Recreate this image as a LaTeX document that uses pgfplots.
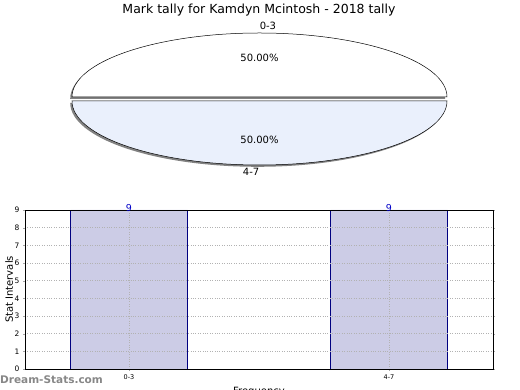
\documentclass[border=0pt]{standalone}
\usepackage{pgfplots}
\pgfplotsset{compat=1.18}
\usepackage{pgfplotstable}
\usepackage{fontspec}
\setmainfont{DejaVu Sans}
\definecolor{barfill}{RGB}{204,204,230}
\definecolor{baredge}{RGB}{0,0,128}
\definecolor{slicetwo}{RGB}{234,240,252}
\definecolor{lblblue}{RGB}{0,0,200}
\definecolor{shadowgray}{RGB}{130,130,130}
\definecolor{wmgray}{RGB}{135,135,135}
\pgfkeys{/pgf/number format/assume math mode=true}
\pgfplotstableread{
label value
0-3 9
4-7 9
}\piedata
\begin{document}%
\begin{tikzpicture}
\pgfplotstablegetelem{0}{value}\of\piedata \let\va\pgfplotsretval
\pgfplotstablegetelem{1}{value}\of\piedata \let\vb\pgfplotsretval
\pgfmathsetmacro\splitang{360*\va/(\va+\vb)}
\pgfmathsetmacro\pctA{100*\va/(\va+\vb)}
\pgfmathsetmacro\pctB{100*\vb/(\va+\vb)}
\path (0pt,0pt) rectangle (520pt,390pt);
\begin{scope}[overlay]
\node[font=\fontsize{12.5}{14}\selectfont] at (259pt,380pt) {Mark tally for Kamdyn Mcintosh - 2018 tally};
% pie
\begin{axis}[at={(259.5pt,291pt)}, anchor=center, scale only axis, width=375pt, height=132pt,
  xmin=-1, xmax=1, ymin=-1, ymax=1, hide axis, clip=false]
  % slice 1 (top)
  \fill[shadowgray, xshift=-1.8pt, yshift=0.2pt] (axis cs:0,0) -- ++(0:187.5pt and 64pt)
     arc[start angle=0, end angle=\splitang, x radius=187.5pt, y radius=64pt] -- cycle;
  \filldraw[fill=white, draw=black, line width=0.5pt, yshift=2pt] (axis cs:0,0) -- ++(0:187.5pt and 64pt)
     arc[start angle=0, end angle=\splitang, x radius=187.5pt, y radius=64pt] -- cycle;
  % slice 2 (bottom)
  \fill[shadowgray, xshift=-1.8pt, yshift=-3.8pt] (axis cs:0,0) -- ++(\splitang:187.5pt and 64pt)
     arc[start angle=\splitang, end angle=360, x radius=187.5pt, y radius=64pt] -- cycle;
  \filldraw[fill=slicetwo, draw=black, line width=0.5pt, yshift=-2pt] (axis cs:0,0) -- ++(\splitang:187.5pt and 64pt)
     arc[start angle=\splitang, end angle=360, x radius=187.5pt, y radius=64pt] -- cycle;
  \node[font=\fontsize{10}{12}\selectfont] at (axis cs:0.045,1.106) {0-3};
  \node[font=\fontsize{10}{12}\selectfont] at (axis cs:0,0.62) {\pgfmathprintnumber[fixed,fixed zerofill,precision=2]{\pctA}\%};
  \node[font=\fontsize{10}{12}\selectfont] at (axis cs:0,-0.62) {\pgfmathprintnumber[fixed,fixed zerofill,precision=2]{\pctB}\%};
  \node[font=\fontsize{10}{12}\selectfont] at (axis cs:-0.045,-1.106) {4-7};
\end{axis}
% bar chart
\begin{axis}[at={(25pt,21pt)}, anchor=south west, scale only axis, width=468pt, height=159pt,
  xmin=-0.4, xmax=1.4, ymin=0, ymax=9,
  ytick={0,...,9}, xtick={0,1}, xticklabels={0-3,4-7},
  ybar, bar width=117pt,
  axis on top,
  xmajorgrids, ymajorgrids,
  grid style={dotted, gray!60, line width=0.6pt},
  tick align=outside, major tick length=2pt,
  tick style={gray!70},
  xtick pos=bottom, ytick pos=both, yticklabel pos=left,
  y tick label style={font=\fontsize{7.5}{8}\selectfont},
  x tick label style={font=\fontsize{6.5}{8}\selectfont},
  axis line style={black, line width=0.6pt},
  ylabel={Stat Intervals},
  ylabel style={at={(axis description cs:-0.034,0.5)}, anchor=center, font=\fontsize{10}{12}\selectfont},
  xlabel={Frequency},
  xlabel style={at={(axis description cs:0.5,-0.094)}, anchor=north, font=\fontsize{10}{12}\selectfont},
  nodes near coords,
  every node near coord/.append style={lblblue, font=\fontsize{9.5}{10}\selectfont, anchor=base, yshift=-1.5pt},
]
\addplot[fill=barfill, draw=baredge, line width=0.8pt] coordinates {(0,9) (1,9)};
\end{axis}
\node[anchor=west, text=wmgray, font=\fontsize{10.5}{12}\selectfont\bfseries, inner sep=0pt] at (0pt,10pt) {Dream-Stats.com};
\end{scope}
\end{tikzpicture}%
\end{document}
